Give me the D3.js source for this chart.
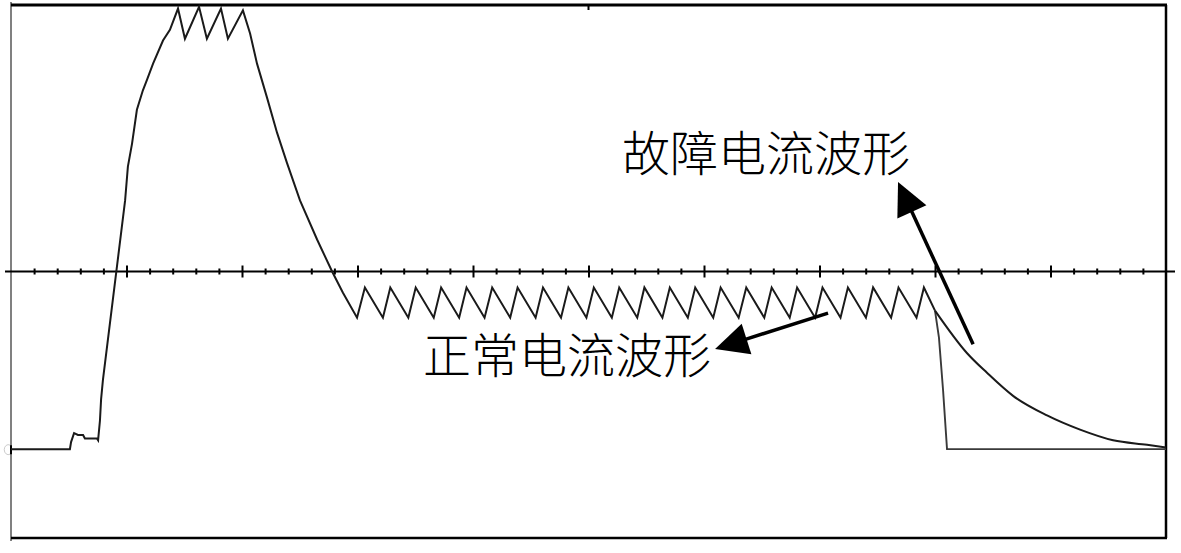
<!DOCTYPE html>
<html><head><meta charset="utf-8">
<script src="https://cdn.jsdelivr.net/npm/d3@7"></script>
<style>html,body{margin:0;padding:0;background:#fff;}svg{display:block;}</style>
</head><body>
<svg id="c" width="1181" height="553"></svg>
<script>
// ---- data (time in minor divisions, current in per-unit) ----
const riseT = [0, 2.55, 2.60, 2.73, 2.90, 3.12, 3.20, 3.72, 3.77, 3.85, 3.90, 3.98, 4.94, 5.06, 5.24, 5.45, 5.71, 5.89, 6.15, 6.58, 6.88, 7.23];
const riseV = [-1.00, -1.00, -0.96, -0.91, -0.92, -0.92, -0.94, -0.94, -0.95, -0.84, -0.72, -0.61, 0.40, 0.59, 0.72, 0.91, 1.02, 1.08, 1.17, 1.30, 1.36, 1.48];
const crestT = [7.53, 8.14, 8.48, 9.09, 9.39, 10.04];
const crestV = [1.31, 1.49, 1.31, 1.48, 1.31, 1.47];
const fallT = [10.35, 10.65, 11.08, 11.52, 11.95, 12.51, 13.25, 13.90, 14.37, 14.98];
const fallV = [1.34, 1.17, 0.98, 0.78, 0.61, 0.40, 0.18, 0.00, -0.12, -0.26];
const sawPeakT = [15.32, 16.42, 17.52, 18.62, 19.72, 20.83, 21.93, 23.03, 24.13, 25.23, 26.33, 27.42, 28.52, 29.62, 30.72, 31.83, 32.93, 34.03, 35.13, 36.23, 37.32, 38.42, 39.52];
const sawTroughT = [16.10, 17.20, 18.30, 19.40, 20.50, 21.61, 22.71, 23.81, 24.91, 26.01, 27.11, 28.20, 29.30, 30.40, 31.50, 32.61, 33.71, 34.81, 35.91, 37.01, 38.10, 39.20];
const sawPeakV = -0.09;
const sawTroughV = -0.26;
const splitT = 40.0, splitV = -0.22;
const faultT = [41.39, 42.25, 43.38, 44.85, 46.28, 47.71, 49.18, 50.0];
const faultV = [-0.46, -0.57, -0.70, -0.81, -0.89, -0.95, -0.975, -0.99];
const normalT = [40.17, 40.35, 40.52, 50.0];
const normalV = [-0.37, -0.67, -1.00, -1.00];
const labels = ["故障电流波形", "正常电流波形"];
const labelT = [26.45, 17.84];
const labelV = [0.684, -0.453];
const arrowFromT = [41.65, 35.37], arrowFromV = [-0.41, -0.234];
const arrowToT = [38.40, 30.48], arrowToV = [0.504, -0.436];

// ---- scales ----
const svg = d3.select("#c");
const x = d3.scaleLinear().domain([0, 50]).range([11, 1166]);
const y = d3.scaleLinear().domain([-1.5, 1.5]).range([538, 5]);

// build series
const common = [];
riseT.forEach((t, i) => common.push([t, riseV[i]]));
crestT.forEach((t, i) => common.push([t, crestV[i]]));
fallT.forEach((t, i) => common.push([t, fallV[i]]));
sawPeakT.forEach((t, i) => {
  common.push([t, sawPeakV]);
  if (i < sawTroughT.length) common.push([sawTroughT[i], sawTroughV]);
});
common.push([splitT, splitV]);
const fault = [[splitT, splitV]].concat(faultT.map((t, i) => [t, faultV[i]]));
const normal = [[splitT, splitV]].concat(normalT.map((t, i) => [t, normalV[i]]));

const line = d3.line().x(d => x(d[0])).y(d => y(d[1]));
const smooth = d3.line().x(d => x(d[0])).y(d => y(d[1])).curve(d3.curveMonotoneX);

// frame
svg.append("line").attr("x1", x(0)).attr("x2", x(0)).attr("y1", 2).attr("y2", 541)
  .attr("stroke", "#808080").attr("stroke-width", 2);
svg.append("line").attr("x1", x(0)).attr("x2", x(50) + 1).attr("y1", y(1.5)).attr("y2", y(1.5))
  .attr("stroke", "#000").attr("stroke-width", 3);
svg.append("line").attr("x1", x(0)).attr("x2", x(50) + 1).attr("y1", y(-1.5)).attr("y2", y(-1.5))
  .attr("stroke", "#000").attr("stroke-width", 2.5);
svg.append("line").attr("x1", x(50)).attr("x2", x(50)).attr("y1", y(1.5)).attr("y2", y(-1.5))
  .attr("stroke", "#000").attr("stroke-width", 2.5);
// small marks on frame
svg.append("line").attr("x1", x(25)).attr("x2", x(25)).attr("y1", y(1.5)).attr("y2", y(1.5) + 5)
  .attr("stroke", "#000").attr("stroke-width", 2);
svg.append("line").attr("x1", x(0)).attr("x2", x(0)).attr("y1", y(-1) - 4).attr("y2", y(-1) + 5)
  .attr("stroke", "#000").attr("stroke-width", 2);
svg.append("path").attr("d", `M${x(0)-1},${y(-1)-4} a4,5 0 1,0 0,9`)
  .attr("fill", "none").attr("stroke", "#ccc").attr("stroke-width", 1);

// zero axis with minor and major ticks
const minorTicks = d3.range(1, 50).filter(v => v % 5 !== 0);
const majorTicks = d3.range(5, 50, 5);
svg.append("line").attr("x1", 5).attr("x2", 1175).attr("y1", y(0)).attr("y2", y(0))
  .attr("stroke", "#000").attr("stroke-width", 2);
const gMinor = svg.append("g").attr("transform", `translate(0,${y(0)})`)
  .call(d3.axisBottom(x).tickValues(minorTicks).tickSize(3).tickFormat(""));
gMinor.select(".domain").remove();
gMinor.selectAll(".tick line").attr("y1", -3).attr("y2", 3).attr("stroke", "#000").attr("stroke-width", 2);
const gMajor = svg.append("g").attr("transform", `translate(0,${y(0)})`)
  .call(d3.axisBottom(x).tickValues(majorTicks).tickSize(6).tickFormat(""));
gMajor.select(".domain").remove();
gMajor.selectAll(".tick line").attr("y1", -6).attr("y2", 6).attr("stroke", "#000").attr("stroke-width", 2);

// waveforms
svg.append("path").datum(normal).attr("d", line).attr("fill", "none")
  .attr("stroke", "#3a3a3a").attr("stroke-width", 1.9);
svg.append("path").datum(common).attr("d", line).attr("fill", "none")
  .attr("stroke", "#1a1a1a").attr("stroke-width", 2);
svg.append("path").datum(fault).attr("d", smooth).attr("fill", "none")
  .attr("stroke", "#1a1a1a").attr("stroke-width", 2);

// labels
labels.forEach((s, i) => {
  svg.append("text").attr("x", x(labelT[i])).attr("y", y(labelV[i]))
    .attr("dominant-baseline", "central")
    .attr("font-family", "'Noto Sans CJK SC', sans-serif").attr("font-size", 48)
    .attr("font-weight", 300)
    .attr("fill", "#000").text(s);
});

// arrows
arrowFromT.forEach((t, i) => {
  const x1 = x(t), y1 = y(arrowFromV[i]);
  const x2 = x(arrowToT[i]), y2 = y(arrowToV[i]);
  const dx = x2 - x1, dy = y2 - y1, L = Math.hypot(dx, dy);
  const ux = dx / L, uy = dy / L;
  const hl = 33, hw = 16;
  const bx = x2 - ux * hl, by = y2 - uy * hl;
  svg.append("line").attr("x1", x1).attr("y1", y1).attr("x2", bx + ux * 2).attr("y2", by + uy * 2)
    .attr("stroke", "#000").attr("stroke-width", 3.5);
  svg.append("path")
    .attr("d", `M${x2},${y2}L${bx - uy * hw},${by + ux * hw}L${bx + uy * hw},${by - ux * hw}Z`)
    .attr("fill", "#000");
});
</script>
</body></html>
